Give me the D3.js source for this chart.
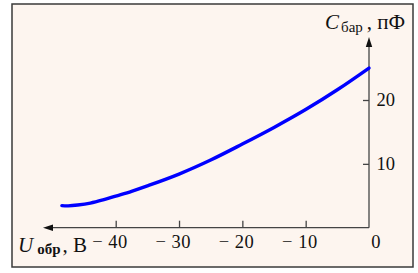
<!DOCTYPE html>
<html>
<head>
<meta charset="utf-8">
<script src="https://cdn.jsdelivr.net/npm/d3@7"></script>
<style>
  body { margin: 0; background: #fff; }
  svg { display: block; }
  text { font-family: "Liberation Serif", "Times New Roman", serif; fill: #111; }
</style>
</head>
<body>
<div id="chart"></div>
<script>
// curve values
const voltage = [-48.5, -47.5, -46, -44, -42, -40, -37.5, -35, -30, -25, -20, -15, -10, -5, 0];
const capacitance = [3.45, 3.42, 3.55, 3.85, 4.35, 4.95, 5.7, 6.55, 8.4, 10.6, 13.1, 15.7, 18.5, 21.6, 25.0];
const xTicks = [-40, -30, -20, -10, 0];
const yTicks = [10, 20];

const W = 418, H = 273;

const svg = d3.select("#chart")
  .append("svg")
  .attr("width", W)
  .attr("height", H);

// frame
svg.append("rect")
  .attr("x", 12).attr("y", 4)
  .attr("width", 401).attr("height", 263)
  .attr("fill", "#fdf5ef")
  .attr("stroke", "#3a3a3a")
  .attr("stroke-width", 1.5);

// scales
const x = d3.scaleLinear().domain([-40, 0]).range([115.7, 369]);
const y = d3.scaleLinear().domain([0, 20]).range([227.7, 100]);

const axisColor = "#444";

// x axis line with arrow to the left
svg.append("line")
  .attr("x1", x(0)).attr("x2", 52)
  .attr("y1", y(0)).attr("y2", y(0))
  .attr("stroke", axisColor).attr("stroke-width", 1.3);
svg.append("path")
  .attr("d", `M43,${y(0)} L53,${y(0) - 3.2} L53,${y(0) + 3.2} Z`)
  .attr("fill", "#111");

// y axis line with arrow upward
svg.append("line")
  .attr("x1", x(0)).attr("x2", x(0))
  .attr("y1", y(0)).attr("y2", 46)
  .attr("stroke", axisColor).attr("stroke-width", 1.3);
svg.append("path")
  .attr("d", `M${x(0)},37 L${x(0) - 3.2},47 L${x(0) + 3.2},47 Z`)
  .attr("fill", "#111");

// x ticks (pointing up)
const xAxis = svg.append("g")
  .attr("transform", `translate(0,${y(0)})`)
  .call(d3.axisTop(x).tickValues(xTicks.filter(d => d !== 0)).tickSize(7).tickSizeOuter(0).tickFormat(""));
xAxis.select(".domain").remove();
xAxis.selectAll("line").attr("stroke", axisColor).attr("stroke-width", 1.3);

// y ticks (pointing left)
const yAxis = svg.append("g")
  .attr("transform", `translate(${x(0)},0)`)
  .call(d3.axisLeft(y).tickValues(yTicks).tickSize(6).tickSizeOuter(0).tickFormat(""));
yAxis.select(".domain").remove();
yAxis.selectAll("line").attr("stroke", axisColor).attr("stroke-width", 1.3);

// tick labels
svg.append("g").selectAll("text")
  .data(xTicks)
  .enter()
  .append("text")
  .attr("x", d => x(d) + 12)
  .attr("y", 248)
  .attr("text-anchor", "end")
  .style("font-size", "18.5px")
  .style("letter-spacing", "0.5px")
  .text(d => d === 0 ? "0" : "\u2212 " + Math.abs(d));

svg.append("g").selectAll("text")
  .data(yTicks)
  .enter()
  .append("text")
  .attr("x", 376.5)
  .attr("y", d => y(d) + 6)
  .style("font-size", "18.5px")
  .text(d => d);

// axis titles
const yTitle = svg.append("text").attr("x", 325).attr("y", 29).style("font-size", "21px");
yTitle.append("tspan").style("font-style", "italic").text("C");
yTitle.append("tspan").attr("dx", 2).attr("dy", 3).style("font-size", "15px").text("бар");
yTitle.append("tspan").attr("dx", 4).attr("dy", -3).text(", пФ");

const xTitle = svg.append("text").attr("x", 18).attr("y", 251.5).style("font-size", "21px");
xTitle.append("tspan").style("font-style", "italic").text("U");
xTitle.append("tspan").attr("dx", 4).attr("dy", 2.5).style("font-size", "15px").style("font-weight", "bold").text("обр");
xTitle.append("tspan").attr("dx", 2).attr("dy", -2.5).text(", В");

// curve
const points = voltage.map((v, i) => [v, capacitance[i]]);
const line = d3.line()
  .x(d => x(d[0]))
  .y(d => y(d[1]))
  .curve(d3.curveCatmullRom);

svg.append("path")
  .datum(points)
  .attr("d", line)
  .attr("fill", "none")
  .attr("stroke", "#0000ff")
  .attr("stroke-width", 3.4)
  .attr("stroke-linecap", "round");
</script>
</body>
</html>
